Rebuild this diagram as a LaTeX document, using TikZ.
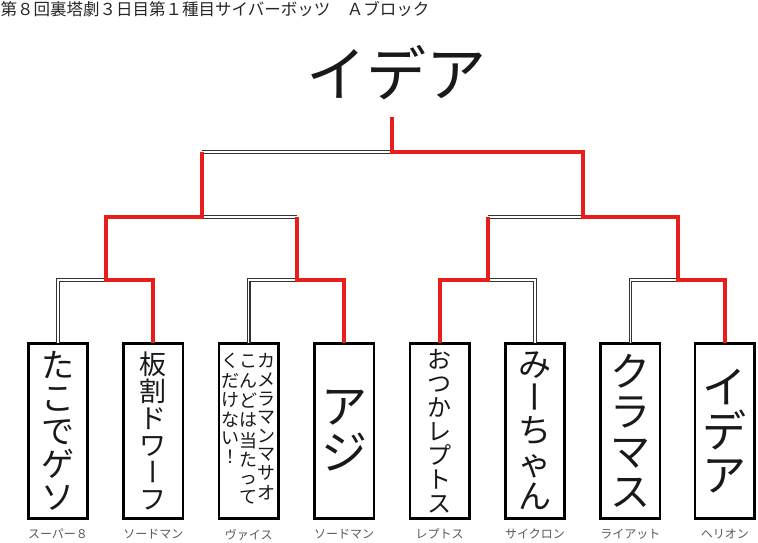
\documentclass[tikz,border=0pt]{standalone}
\usepackage{graphicx}
\usepackage{fontspec}
\newfontfamily\jp{Noto Sans CJK JP}
\usepackage{tikz}
\usetikzlibrary{positioning}

\definecolor{winred}{RGB}{232,30,28}
% long vowel mark set upright for vertical text
\newcommand{\bou}{\raisebox{0.38em}{\rotatebox[origin=c]{90}{\raisebox{-0.38em}[0.5em][0.5em]{ー}}}}
\newcommand{\tcol}[1]{\begin{tabular}[t]{@{}c@{}}#1\end{tabular}}
\newcommand{\jpsize}[1]{\jp\fontsize{#1}{#1}\selectfont}

\begin{document}
\begin{tikzpicture}[x=1pt,y=-1pt,
  entrant/.style={draw,line width=2.6pt,minimum width=59.4pt,minimum height=175.4pt,
    inner sep=0pt,outer sep=0pt,align=center,text=black!90},
  team/.style={font=\jpsize{12},text=black!65,inner sep=0pt},
  lose/.style={draw=black!80,double=white,line width=1.1pt,double distance=1.3pt},
  win/.style={draw=winred,line width=4pt}]
\useasboundingbox (0,0) rectangle (758,543);

\node[font=\jpsize{16.5},text=black!85,anchor=north west,inner sep=0pt] (head) at (0.5,1)
  {第８回裏塔劇３日目第１種目サイバーボッツ　Ａブロック};
\node[font=\jpsize{60},text=black!90,inner sep=0pt] (champ) at (396.5,72.5) {イデア};

% entrants
\node[entrant,font=\jpsize{33}] (e1) at (58,431) {た\\こ\\で\\ゲ\\ソ};
\node[entrant,font=\jpsize{27},right=36pt of e1] (e2) {板\\割\\ド\\ワ\\\bou\\フ};
\node[entrant,font=\jpsize{18},right=36pt of e2] (e3)
  {\tcol{く\\だ\\け\\な\\い\\！}\tcol{こ\\ん\\ど\\は\\当\\た\\っ\\て}\tcol{カ\\メ\\ラ\\マ\\ン\\マ\\サ\\オ}};
\node[entrant,font=\jpsize{46},right=36pt of e3] (e4) {ア\\ジ};
\node[entrant,font=\jpsize{24},right=36pt of e4] (e5) {お\\つ\\か\\レ\\プ\\ト\\ス};
\node[entrant,font=\jpsize{33},right=36pt of e5] (e6) {み\\\bou\\ち\\ゃ\\ん};
\node[entrant,font=\jpsize{40},right=36pt of e6] (e7) {ク\\ラ\\マ\\ス};
\node[entrant,font=\jpsize{44},right=35pt of e7] (e8) {イ\\デ\\ア};

% machines
\node[team,below=10pt of e1] (t1) {スーパー８};
\node[team,below=10pt of e2] (t2) {ソードマン};
\node[team,below=10pt of e3] (t3) {ヴァイス};
\node[team,below=10pt of e4] (t4) {ソードマン};
\node[team,below=10pt of e5] (t5) {レプトス};
\node[team,below=10pt of e6] (t6) {サイクロン};
\node[team,below=10pt of e7] (t7) {ライアット};
\node[team,below=10pt of e8] (t8) {ヘリオン};

% joints
\coordinate (q1) at (106,280);
\coordinate (q2) at (297,280);
\coordinate (q3) at (488,280);
\coordinate (q4) at (678,280);
\coordinate (s1) at (201.5,217);
\coordinate (s2) at (583,217);
\coordinate (f) at (392,152);
\coordinate (top) at (392,117);

\draw[lose] (e1.north) |- (q1);
\draw[lose] (e3.north) |- (q2);
\draw[lose] (e6.north) |- (q3);
\draw[lose] (e7.north) |- (q4);
\draw[lose] (q2 |- s1) -- (s1);
\draw[lose] (q3 |- s2) -- (s2);
\draw[lose] (s1 |- f) -- (f);

\draw[win] (e2.north) |- (q1) -- (q1 |- s1) -- (s1) -- (s1 |- f);
\draw[win] (e4.north) |- (q2) -- (q2 |- s1);
\draw[win] (e5.north) |- (q3) -- (q3 |- s2);
\draw[win] (e8.north) |- (q4) -- (q4 |- s2) -- (s2) -- (s2 |- f) -- (f) -- (top);
\end{tikzpicture}
\end{document}
